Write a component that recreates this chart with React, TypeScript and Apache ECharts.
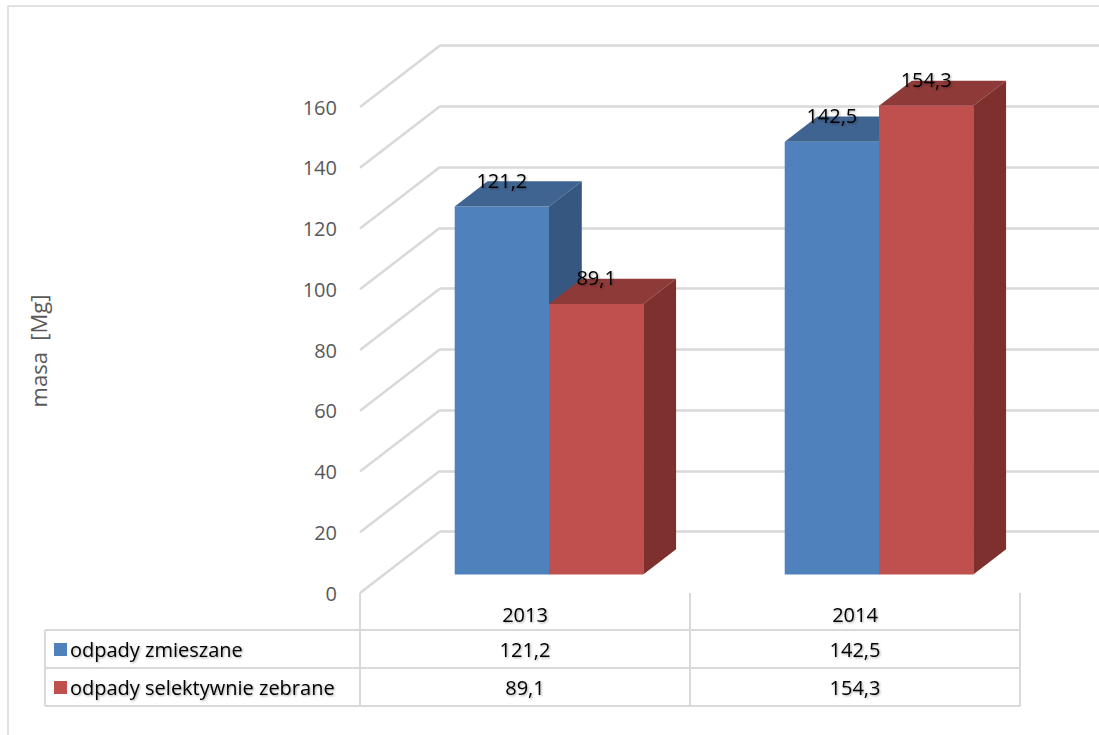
import React, { useEffect, useRef } from "react";
import * as echarts from "echarts";

const categories = ["2013", "2014"];
const seriesNames = ["odpady zmieszane", "odpady selektywnie zebrane"];
const zmieszane = [121.2, 142.5];
const selektywnie = [89.1, 154.3];
const yTicks = [0, 20, 40, 60, 80, 100, 120, 140, 160];
const yAxisTitle = "masa  [Mg]";

const FONT = "'Open Sans', 'DejaVu Sans', sans-serif";
const FACE = ["#4F81BD", "#C0504D"];
const TOP = ["#3F6491", "#8E3A38"];
const SIDE = ["#365880", "#7D302E"];
const GRID_COLOR = "#d9d9d9";

// 3D projection (depth vector) and bar placement within the depth
const DEPTH_X = 80;
const DEPTH_Y = -61.5;
const F_FRONT = 0.3;
const F_BACK = 0.71;

const fmt = (v: number) => v.toFixed(1).replace(".", ",");

const shadow = {
  textShadowColor: "rgba(0,0,0,0.35)",
  textShadowBlur: 2,
  textShadowOffsetX: 1,
  textShadowOffsetY: 1,
};

function barRenderer(s: number) {
  return (params: any, api: any) => {
    const cat = api.value(0);
    const v = api.value(1);
    const top = api.coord([cat, v]);
    const base = api.coord([cat, 0]);
    const band = api.size([1, 0])[0];
    const bw = band / 3.5;
    const fdx = DEPTH_X * F_FRONT;
    const fdy = DEPTH_Y * F_FRONT;
    const dx = DEPTH_X * (F_BACK - F_FRONT);
    const dy = DEPTH_Y * (F_BACK - F_FRONT);
    const x0 = top[0] - bw + s * bw + fdx;
    const x1 = x0 + bw;
    const yT = top[1] + fdy;
    const yB = base[1] + fdy;
    return {
      type: "group",
      children: [
        {
          type: "rect",
          shape: { x: x0, y: yT, width: bw, height: yB - yT },
          style: { fill: FACE[s] },
        },
        {
          type: "polygon",
          shape: { points: [[x0, yT], [x1, yT], [x1 + dx, yT + dy], [x0 + dx, yT + dy]] },
          style: { fill: TOP[s] },
        },
        {
          type: "polygon",
          shape: { points: [[x1, yT], [x1 + dx, yT + dy], [x1 + dx, yB + dy], [x1, yB]] },
          style: { fill: SIDE[s] },
        },
        {
          type: "text",
          z2: 100,
          style: {
            x: x0 + bw / 2,
            y: yT + dy - 1,
            text: fmt(v),
            align: "center",
            verticalAlign: "middle",
            fill: "#000",
            font: `20px ${FONT}`,
            ...shadow,
          },
        },
        {
          type: "text",
          z2: 100,
          style: {
            x: base[0],
            y: base[1] + 56 + s * 38,
            text: fmt(v),
            align: "center",
            verticalAlign: "middle",
            fill: "#000",
            font: `20px ${FONT}`,
            ...shadow,
          },
        },
      ],
    };
  };
}

function diagRenderer(params: any, api: any) {
  const v = api.value(1);
  const p = api.coord([0, v]);
  const band = api.size([1, 0])[0];
  const lx = p[0] - band / 2;
  return {
    type: "line",
    shape: { x1: lx, y1: p[1], x2: lx + DEPTH_X, y2: p[1] + DEPTH_Y },
    style: { stroke: GRID_COLOR, lineWidth: 2.5 },
  };
}

export default function App() {
  const ref = useRef<HTMLDivElement>(null);
  useEffect(() => {
    document.body.style.margin = "0";
    const chart = echarts.init(ref.current!, null, { renderer: "svg" });
    const seriesData = [zmieszane, selektywnie];
    const legendGraphics: any[] = [];
    seriesNames.forEach((name, i) => {
      legendGraphics.push({
        type: "rect",
        shape: { x: 54, y: 643 + i * 38, width: 13, height: 13 },
        style: { fill: FACE[i] },
      });
      legendGraphics.push({
        type: "text",
        style: {
          x: 70,
          y: 649 + i * 38,
          text: name,
          verticalAlign: "middle",
          fill: "#000",
          font: `20px ${FONT}`,
          ...shadow,
        },
      });
    });
    const tableLines: any[] = [630, 668, 706].map((y) => ({
      type: "line",
      shape: { x1: 45, y1: y, x2: 1020, y2: y },
      style: { stroke: GRID_COLOR, lineWidth: 2 },
    }));
    tableLines.push({
      type: "line",
      shape: { x1: 45, y1: 630, x2: 45, y2: 706 },
      style: { stroke: GRID_COLOR, lineWidth: 2 },
    });

    chart.setOption({
      animation: false,
      backgroundColor: "#fff",
      textStyle: { fontFamily: FONT },
      grid: [
        { left: 360, top: 107, width: 660, height: 486 },
        { left: 440, top: 45.5, width: 660, height: 486 },
      ],
      xAxis: [
        {
          type: "category",
          gridIndex: 0,
          data: categories,
          axisLine: { show: true, lineStyle: { color: "rgba(0,0,0,0)" } },
          axisTick: { show: true, length: 113, lineStyle: { color: GRID_COLOR, width: 2 } },
          axisLabel: { color: "#000", fontSize: 20, fontFamily: FONT, margin: 11, ...shadow },
          splitLine: { show: false },
        },
        {
          type: "category",
          gridIndex: 1,
          data: categories,
          axisLine: { show: false },
          axisTick: { show: false },
          axisLabel: { show: false },
        },
      ],
      yAxis: [
        {
          type: "value",
          gridIndex: 0,
          min: yTicks[0],
          max: yTicks[yTicks.length - 1],
          interval: yTicks[1] - yTicks[0],
          axisLine: { show: false },
          axisTick: { show: false },
          splitLine: { show: false },
          axisLabel: { color: "#595959", fontSize: 20, fontFamily: FONT, margin: 23 },
        },
        {
          type: "value",
          gridIndex: 1,
          min: yTicks[0],
          max: yTicks[yTicks.length - 1],
          interval: yTicks[1] - yTicks[0],
          axisLine: { show: false },
          axisTick: { show: false },
          axisLabel: { show: false },
          splitLine: { show: true, lineStyle: { color: GRID_COLOR, width: 2.5 } },
        },
      ],
      graphic: [
        {
          type: "rect",
          shape: { x: 8, y: 6, width: 1300, height: 900 },
          style: { fill: "none", stroke: GRID_COLOR, lineWidth: 1.5 },
          silent: true,
        },
        {
          type: "text",
          x: 38,
          y: 351,
          rotation: Math.PI / 2,
          style: {
            text: yAxisTitle,
            align: "center",
            verticalAlign: "middle",
            fill: "#595959",
            font: `22px ${FONT}`,
          },
        },
        ...tableLines,
        ...legendGraphics,
      ],
      series: [
        {
          type: "custom",
          name: "grid-diagonals",
          xAxisIndex: 0,
          yAxisIndex: 0,
          silent: true,
          clip: false,
          encode: { x: 0, y: 1 },
          data: yTicks.map((v) => [0, v]),
          renderItem: diagRenderer,
        },
        ...seriesNames.map((name, s) => ({
          type: "custom",
          name,
          xAxisIndex: 0,
          yAxisIndex: 0,
          silent: true,
          clip: false,
          encode: { x: 0, y: 1 },
          data: seriesData[s].map((v, i) => [i, v]),
          renderItem: barRenderer(s),
        })),
      ],
    });
    return () => chart.dispose();
  }, []);
  return <div ref={ref} style={{ width: 1099, height: 735 }} />;
}
